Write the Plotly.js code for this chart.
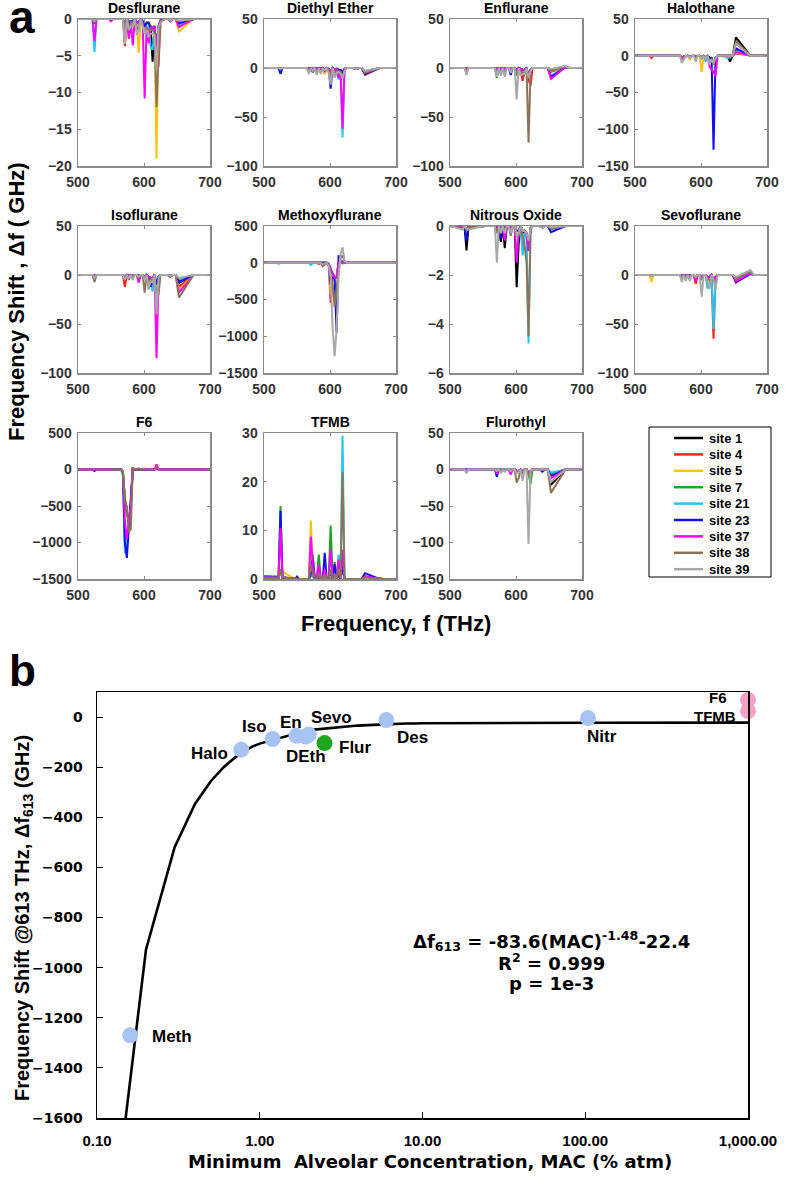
<!DOCTYPE html>
<html><head><meta charset="utf-8">
<script src="https://cdn.plot.ly/plotly-3.0.1.min.js"></script>
<style>html,body{margin:0;padding:0;background:#fff}#chart{width:787px;height:1182px}</style>
</head><body><div id="chart"></div>
<script>
// ---------------- DATA ----------------
const FREQ = [500, 519, 522, 525, 528, 547, 550, 553, 565, 568, 571, 574, 577, 580, 583, 586, 589, 592, 595, 598, 601, 604, 607, 610, 613, 616, 619, 622, 625, 632, 636, 640, 644, 648, 653, 675, 680, 700];
const SITES = ['site 1', 'site 4', 'site 5', 'site 7', 'site 21', 'site 23', 'site 37', 'site 38', 'site 39'];
// rows: [freq, site1, site4, site5, site7, site21, site23, site37, site38, site39]; unlisted grid frequencies are 0
const desflurane = [
  [525, -0.3, -0.5, -0.3, -0.5, -4.5, -0.6, -3.0, -0.3, -0.3],
  [550, 0, 0, 0, 0, 0, 0, -0.3, -0.1, 0],
  [571, -1.0, -3.7, -1.0, -1.0, -1.2, -1.0, -1.2, -2.0, -3.4],
  [577, -0.3, -0.5, -0.5, -0.5, -0.5, -0.8, -2.7, -1.0, -1.5],
  [580, -0.3, -0.3, -0.3, -0.3, -0.3, -0.3, -0.3, -0.6, -1.0],
  [583, -0.3, -0.3, -0.3, -0.3, -0.3, -0.3, -3.6, -0.5, -1.0],
  [589, -0.5, -0.5, -0.6, -0.5, -0.5, -0.5, -0.6, -1.5, -2.2],
  [592, -0.5, -0.5, -4.6, -0.5, -0.5, -0.5, -0.5, -1.0, -1.5],
  [598, -0.3, -0.3, -0.3, -0.3, -0.3, -0.3, -0.5, -0.8, -1.0],
  [601, -1.0, -1.0, -1.2, -1.0, -1.2, -1.0, -10.8, -2.0, -2.0],
  [604, -0.5, -0.5, -0.5, -0.5, -0.6, -0.5, -1.0, -1.2, -1.5],
  [607, -0.5, -0.5, -0.5, -0.5, -0.8, -0.5, -3.3, -1.5, -2.5],
  [610, -1.0, -1.0, -1.0, -1.0, -3.8, -1.2, -1.2, -1.5, -2.0],
  [613, -5.8, -1.2, -1.2, -1.2, -4.2, -1.2, -1.2, -1.5, -2.0],
  [616, -1.0, -1.0, -1.0, -1.0, -1.5, -1.0, -1.0, -1.8, -2.2],
  [619, -5.0, -5.5, -19.0, -4.0, -4.5, -4.0, -4.0, -12.0, -7.0],
  [622, -1.0, -6.5, -1.0, -1.0, -1.0, -1.0, -1.0, -5.0, -1.0],
  [625, -0.2, -0.3, -0.3, -0.2, -0.2, -0.2, -0.3, -0.4, -0.5],
  [640, -0.2, -0.3, -0.2, -0.2, -0.2, -0.2, -0.3, -0.2, -0.2],
  [653, -0.8, -0.5, -1.7, -0.5, -0.8, -0.6, -1.1, -0.3, -0.2]
];
const diethylEther = [
  [525, 0, 0, 0, 0, 0, -6, 0, -0.5, -1],
  [568, -1, -1, -1, -1, -1, -1, -1, -4, -6],
  [574, -1, -1, -1, -1, -1, -4.5, -1, -2, -3],
  [580, -1, -1, -1, -1, -1, -1, -1, -5, -7],
  [586, -1, -1, -4, -1, -1, -1, -1, -3, -6],
  [592, -2, -6, -6, -2, -2, -2, -3, -2, -2],
  [598, -1, -1, -1, -1, -1, -1, -1, -3, -5],
  [601, -3, -3, -3, -3, -3, -21, -3, -8, -17],
  [607, -2, -2, -2, -2, -2, -2, -2, -5, -10],
  [610, -1, -1, -1, -1, -1, -1, -1, -3, -5],
  [613, -2, -2, -2, -2, -12, -2, -10, -3, -4],
  [616, -2, -2, -2, -2, -2, -2, -3, -4, -6],
  [619, -5, -5, -5, -5, -71, -5, -62, -8, -10],
  [622, -1, -2, -1, -1, -1, -1, -1, -3, -3],
  [640, -1, -1, -1, -1, -1, -1, -1, -1, -1],
  [653, -4, -7, -4, -3, -4, -6, -4, -5, -3]
];
const enflurane = [
  [525, -1, -1, -1, -1, -1, -1, -1, -3, -7],
  [571, -1, -1, -1, -10, -1, -1, -1, -5, -9],
  [577, -1, -1, -1, -1, -1, -1, -1, -3, -8],
  [583, -1, -1, -1, -1, -1, -1, -1, -4, -9],
  [592, -1, -1, -1, -1, -1, -7, -1, -3, -5],
  [601, -2, -2, -2, -2, -2, -2, -2, -8, -32],
  [607, -1, -1, -1, -1, -1, -1, -1, -4, -8],
  [610, -2, -13, -2, -2, -2, -2, -2, -4, -6],
  [613, -2, -4, -2, -2, -2, -2, -2, -5, -6],
  [619, -8, -12, -8, -8, -8, -8, -8, -76, -10],
  [622, -2, -18, -2, -2, -2, -2, -2, -4, -3],
  [653, -2, -4, -3, -2, -8, -9, -11, -3, -1],
  [675, 1, 1, 1, 1, 1, 1, 1, 2, 2]
];
const halothane = [
  [525, 0, -3, 0, 0, 0, 0, 0, -1, -1],
  [571, -2, -2, -2, -2, -2, -2, -2, -6, -10],
  [574, -1, -1, -1, -1, -1, -1, -1, -3, -5],
  [583, -1, -1, -6, -1, -1, -1, -1, -2, -3],
  [592, -1, -1, -1, -1, -1, -1, -1, -4, -8],
  [601, -2, -2, -22, -2, -2, -2, -2, -3, -4],
  [607, -2, -2, -2, -2, -8, -2, -3, -3, -4],
  [613, -3, -3, -3, -3, -3, -3, -15, -8, -12],
  [616, -3, -3, -3, -3, -3, -3, -18, -5, -5],
  [619, -10, -10, -10, -10, -10, -128, -22, -12, -10],
  [622, -3, -3, -3, -3, -3, -3, -28, -4, -3],
  [640, -1, -1, -1, -1, -3, -1, -1, -1, -1],
  [644, -8, -1, -1, -1, -1, -1, -1, -1, -1],
  [653, 25, 3, 4, 8, 6, 10, 5, 20, 16]
];
const isoflurane = [
  [525, -1, -1, -1, -1, -1, -1, -1, -7, -3],
  [571, -2, -12, -2, -2, -2, -2, -2, -3, -5],
  [577, -1, -1, -1, -1, -1, -1, -1, -5, -3],
  [583, -1, -1, -1, -1, -1, -1, -1, -2, -5],
  [592, -1, -1, -1, -1, -1, -1, -8, -3, -2],
  [601, -2, -2, -2, -2, -2, -2, -2, -18, -5],
  [607, -2, -2, -2, -2, -2, -2, -2, -8, -15],
  [610, -3, -3, -3, -3, -5, -12, -3, -4, -6],
  [613, -3, -3, -3, -3, -17, -6, -3, -5, -8],
  [619, -10, -10, -10, -10, -10, -10, -85, -20, -40],
  [622, -2, -2, -2, -2, -2, -2, -5, -20, -3],
  [640, -1, -2, -1, -1, -1, -1, -1, -1, -1],
  [653, -8, -12, -15, -6, -5, -7, -18, -23, -3]
];
const methoxyflurane = [
  [522, 0, 0, 0, 0, -15, 0, 0, 0, 0],
  [571, 0, 0, 0, 0, -30, 0, -10, 0, 0],
  [583, -5, -10, -5, -5, -10, -5, -10, -20, -10],
  [589, -10, -20, -10, -10, -10, -10, -40, -50, -20],
  [592, -5, -10, -5, -5, -5, -5, -20, -30, -10],
  [598, -20, -20, -20, -20, -20, -20, -20, -30, -40],
  [601, -100, -550, -420, -100, -100, -300, -100, -150, -200],
  [604, -150, -200, -200, -150, -150, -200, -150, -300, -900],
  [607, -200, -200, -200, -200, -200, -200, -200, -600, -1270],
  [610, -200, -200, -200, -200, -200, -950, -200, -300, -900],
  [613, 0, 0, 0, 0, 0, 100, 0, -100, -200],
  [616, 20, 20, 20, 20, 20, 20, 20, 60, 120],
  [619, 10, 10, 10, -10, 10, 10, 10, 100, 210],
  [622, 0, 0, 0, 0, 0, 0, 0, 20, 30]
];
const nitrousOxide = [
  [519, -0.05, -0.05, -0.05, -0.05, -0.05, -0.05, -0.05, -0.1, -0.15],
  [525, -1.0, -0.2, -0.2, -0.2, -0.2, -0.6, -0.2, -0.2, -0.1],
  [528, -0.05, -0.05, -0.05, -0.05, -0.05, -0.05, -0.05, -0.05, -0.15],
  [571, -0.2, -0.1, -0.1, -0.1, -0.1, -0.1, -0.1, -0.3, -1.5],
  [577, -0.65, -0.1, -0.1, -0.1, -0.1, -0.5, -0.1, -0.2, -0.3],
  [583, -0.9, -0.1, -0.1, -0.1, -0.1, -0.1, -0.6, -0.2, -0.3],
  [592, -0.2, -0.1, -0.1, -0.1, -0.1, -0.1, -0.1, -0.4, -0.3],
  [601, -2.5, -0.2, -0.2, -0.2, -0.2, -0.2, -1.5, -0.4, -0.4],
  [604, -0.75, -0.2, -0.2, -0.2, -0.2, -0.2, -0.3, -0.4, -0.3],
  [610, -0.3, -0.2, -0.2, -0.2, -1.2, -0.2, -0.2, -0.4, -0.2],
  [613, -0.2, -0.2, -0.2, -0.2, -0.3, -0.2, -0.2, -0.8, -0.2],
  [616, -0.3, -0.3, -0.3, -0.3, -0.5, -0.3, -0.3, -1.5, -0.3],
  [619, -1.0, -1.0, -1.0, -1.0, -4.8, -1.0, -1.0, -4.5, -0.6],
  [622, -0.1, -0.1, -0.1, -0.1, -0.1, -0.1, -0.1, -0.2, -0.1],
  [640, -0.05, -0.05, -0.05, -0.05, -0.05, -0.05, -0.05, -0.05, -0.1],
  [653, -0.1, -0.1, -0.1, -0.1, -0.15, -0.25, -0.1, -0.1, -0.05]
];
const sevoflurane = [
  [525, 0, 0, -7, 0, 0, 0, 0, -1, -1],
  [571, -1, -1, -1, -1, -1, -1, -1, -3, -7],
  [577, -1, -1, -1, -1, -1, -1, -1, -3, -6],
  [583, -1, -1, -1, -1, -1, -1, -1, -3, -6],
  [592, -2, -9, -2, -2, -2, -5, -6, -2, -2],
  [601, -2, -2, -2, -2, -2, -2, -2, -5, -22],
  [610, -2, -2, -13, -2, -14, -2, -2, -4, -8],
  [613, -2, -2, -2, -2, -10, -2, -2, -5, -14],
  [619, -5, -65, -5, -5, -55, -5, -5, -5, -5],
  [622, -2, -2, -2, -2, -2, -2, -2, -8, -15],
  [653, -5, -8, -5, -4, -3, -7, -6, -4, -2],
  [675, 2, 2, 2, 2, 2, 1, 2, 4, 5]
];
const f6 = [
  [525, 0, 0, 0, 0, -5, -20, 0, 0, null],
  [568, -30, -30, -30, -30, -80, -30, -30, -30, null],
  [571, -400, -400, -400, -400, -1150, -1000, -700, -450, null],
  [574, -600, -600, -600, -600, -1000, -1210, -950, -500, null],
  [577, -700, -700, -700, -700, -750, -800, -750, -850, null],
  [580, -500, -500, -500, -500, -500, -500, -500, -820, null],
  [583, 10, 10, 30, 10, 10, 10, 10, 20, null],
  [592, 10, 10, 10, 10, 10, 10, 10, 15, null],
  [601, 5, 5, 5, 5, 5, 5, 5, 10, null],
  [610, 5, 5, 5, 5, 5, 5, 10, 10, null],
  [619, 20, 20, 20, 20, 20, 20, 70, 40, null]
];
const tfmb = [
  [500, 0.3, 0.3, 0.3, 0.6, 0.4, 0.3, 0.3, 0.2, null],
  [519, 0.3, 0.3, 0.3, 0.5, 0.4, 0.3, 0.3, 0.2, null],
  [525, 2, 2, 2, 15, 2, 14, 10.5, 2, null],
  [528, 0.3, 0.3, 1.5, 0.3, 0.3, 0.3, 0.3, 0.3, null],
  [550, 0, 0, 0, 0, 0, 0.5, 0, 0, null],
  [571, 1, 1, 12, 1, 1, 1, 8.7, 3, null],
  [574, 0.5, 0.5, 0.5, 5, 0.5, 4, 3, 1, null],
  [583, 0.5, 0.5, 0.5, 5, 0.5, 0.5, 3, 1, null],
  [592, 0.5, 0.5, 0.5, 0.5, 0.5, 5.4, 2, 1, null],
  [601, 1, 1, 1, 11, 1, 1, 6, 2, null],
  [607, 0.5, 0.5, 0.5, 3.5, 0.5, 3, 1, 1, null],
  [613, 1, 1, 1, 1, 5, 1, 4, 2, null],
  [619, 3, 3, 3, 3, 29.5, 3, 6, 22, null],
  [653, 0.5, 0.5, 0.5, 0.5, 0.5, 1.2, 0.5, 0.3, null]
];
const flurothyl = [
  [525, -1, -1, -1, -1, -1, -1, -1, -3, -5],
  [571, -1, -1, -1, -1, -1, -10, -6, -2, -2],
  [577, -1, -1, -1, -1, -1, -1, -1, -3, -5],
  [583, -1, -1, -1, -1, -1, -1, -1, -2, -3],
  [592, -1, -1, -1, -3, -1, -1, -7, -2, -2],
  [601, -2, -2, -2, -2, -2, -2, -2, -18, -5],
  [604, -2, -2, -2, -2, -2, -2, -2, -12, -4],
  [610, -3, -3, -3, -3, -3, -3, -3, -5, -16],
  [619, -5, -5, -5, -5, -5, -5, -5, -8, -102],
  [622, -2, -2, -2, -20, -2, -2, -2, -3, -3],
  [640, -1, -1, -1, -1, -1, -3, -1, -1, -1],
  [653, -21, -7, -5, -6, -4, -9, -12, -32, -17]
];
const PANEL_NAMES = ['Desflurane', 'Diethyl Ether', 'Enflurane', 'Halothane', 'Isoflurane', 'Methoxyflurane', 'Nitrous Oxide', 'Sevoflurane', 'F6', 'TFMB', 'Flurothyl'];
const PANEL_DATA = [desflurane, diethylEther, enflurane, halothane, isoflurane, methoxyflurane, nitrousOxide, sevoflurane, f6, tfmb, flurothyl];
const PANEL_YRANGE = [[-20, 0], [-100, 50], [-100, 50], [-150, 50], [-100, 50], [-1500, 500], [-6, 0], [-100, 50], [-1500, 500], [0, 30], [-150, 50]];
const PANEL_DTICK = [5, 50, 50, 50, 50, 500, 2, 50, 500, 10, 50];

// panel b
const fitMAC = [0.1, 0.2, 0.3, 0.4, 0.5, 0.6, 0.7, 0.8, 0.9, 1, 2, 3, 4, 5, 6, 7, 8, 9, 10, 100, 1000];
const fitShift = [-2547, -928, -519, -347, -256, -200, -163, -137, -118, -106, -52, -40, -34, -31, -28, -27, -26, -25.5, -25, -22.6, -22.4];
const drugNames = ['Meth', 'Halo', 'Iso', 'En', 'DEth', 'Sevo', 'Flur', 'Des', 'Nitr', 'F6', 'TFMB'];
const drugMAC = [0.16, 0.77, 1.2, 1.68, 1.92, 2.0, 2.5, 6.0, 104, 1000, 1000];
const drugShift = [-1270, -130, -88, -75, -78, -70, -104, -12, -4, 68, 24];
const xTickVals = [0.1, 1, 10, 100, 1000];
const xTickText = ['0.10', '1.00', '10.00', '100.00', '1,000.00'];

// ---------------- STYLE / LAYOUT ----------------
const W = 787, H = 1182;
const px = v => v / W, py = v => 1 - v / H;
const SITE_COLORS = ['#000000', '#ff2020', '#ffc20e', '#21a021', '#22c5f3', '#1010ee', '#ff00ff', '#8c7358', '#a8a8a8'];
const COLS = [[78, 210], [264, 396], [450, 582], [635, 767]];
const ROWS = [[19, 166], [226, 373], [433, 579]];
const ARIAL = 'Liberation Sans, Arial, Helvetica, sans-serif';
const DEJAVU = 'DejaVu Sans, Verdana, sans-serif';

const traces = [];
const layout = {
  width: W, height: H, margin: {l: 0, r: 0, t: 0, b: 0},
  paper_bgcolor: '#fff', plot_bgcolor: '#fff',
  showlegend: false, hovermode: false,
  annotations: [], shapes: []
};

function column(rows, k) {
  if (rows.every(r => r[k + 1] === null)) return null;
  const m = new Map(rows.map(r => [r[0], r[k + 1]]));
  return FREQ.map(f => (m.has(f) ? m.get(f) : 0));
}

PANEL_NAMES.forEach((name, i) => {
  const n = i + 1;
  const xid = n === 1 ? 'x' : 'x' + n, yid = n === 1 ? 'y' : 'y' + n;
  const col = COLS[i % 4], row = ROWS[Math.floor(i / 4)];
  for (let k = 0; k < SITES.length; k++) {
    const y = column(PANEL_DATA[i], k);
    if (!y) continue;
    traces.push({type: 'scatter', mode: 'lines', x: FREQ, y: y, xaxis: xid, yaxis: yid,
      name: SITES[k], showlegend: false, hoverinfo: 'skip',
      line: {color: SITE_COLORS[k], width: 2}});
  }
  const axCommon = {showgrid: false, zeroline: false, showline: true, linecolor: '#8a8a8a', linewidth: 1.5,
    mirror: 'ticks', ticks: 'inside', ticklen: 3, tickcolor: '#8a8a8a', fixedrange: true,
    tickfont: {family: ARIAL, size: 14, color: '#333', weight: 'bold'}};
  layout[n === 1 ? 'xaxis' : 'xaxis' + n] = Object.assign({}, axCommon, {
    domain: [px(col[0]), px(col[1])], range: [500, 700], tickvals: [500, 600, 700],
    anchor: yid, ticklabelstandoff: 3});
  layout[n === 1 ? 'yaxis' : 'yaxis' + n] = Object.assign({}, axCommon, {
    domain: [py(row[1]), py(row[0])], range: PANEL_YRANGE[i], dtick: PANEL_DTICK[i], tick0: 0,
    anchor: xid, ticklabelstandoff: 2});
  layout.annotations.push({xref: 'paper', yref: 'paper', x: px((col[0] + col[1]) / 2), y: py(row[0] - 11),
    text: '<b>' + name + '</b>', showarrow: false, xanchor: 'center', yanchor: 'middle',
    font: {family: ARIAL, size: 14, color: '#000'}});
});

// legend (box, line samples, labels)
layout.shapes.push({type: 'rect', xref: 'paper', yref: 'paper', x0: px(649), x1: px(771), y0: py(577), y1: py(427),
  line: {color: '#000', width: 1}});
SITES.forEach((s, k) => {
  const yy = 438 + 16.4 * k;
  layout.shapes.push({type: 'line', xref: 'paper', yref: 'paper', x0: px(674), x1: px(703), y0: py(yy), y1: py(yy),
    line: {color: SITE_COLORS[k], width: 2.5}});
  layout.annotations.push({xref: 'paper', yref: 'paper', x: px(707), y: py(yy), text: '<b>' + s + '</b>',
    showarrow: false, xanchor: 'left', yanchor: 'middle', font: {family: ARIAL, size: 13, color: '#000'}});
});

// panel a axis titles and labels
layout.annotations.push({xref: 'paper', yref: 'paper', x: px(16), y: py(302), textangle: -90, showarrow: false,
  text: '<b>Frequency Shift , Δf ( GHz)</b>', xanchor: 'center', yanchor: 'middle',
  font: {family: ARIAL, size: 22, color: '#000'}});
layout.annotations.push({xref: 'paper', yref: 'paper', x: px(396), y: py(623), showarrow: false,
  text: '<b>Frequency, f (THz)</b>', xanchor: 'center', yanchor: 'middle',
  font: {family: ARIAL, size: 22, color: '#000'}});
layout.annotations.push({xref: 'paper', yref: 'paper', x: px(22), y: py(17), showarrow: false,
  text: '<b>a</b>', xanchor: 'center', yanchor: 'middle', font: {family: ARIAL, size: 46, color: '#000'}});
layout.annotations.push({xref: 'paper', yref: 'paper', x: px(22), y: py(670), showarrow: false,
  text: '<b>b</b>', xanchor: 'center', yanchor: 'middle', font: {family: ARIAL, size: 44, color: '#000'}});

// ---------------- PANEL B ----------------
traces.push({type: 'scatter', mode: 'lines', x: fitMAC, y: fitShift, xaxis: 'x12', yaxis: 'y12',
  showlegend: false, hoverinfo: 'skip', line: {color: '#000', width: 2.6}});
const POINT_COLOR = {Flur: '#1ea51e', F6: '#f6a2c8', TFMB: '#f6a2c8'};
traces.push({type: 'scatter', mode: 'markers', x: drugMAC, y: drugShift, xaxis: 'x12', yaxis: 'y12',
  showlegend: false, hoverinfo: 'skip', cliponaxis: false,
  marker: {size: 16, color: drugNames.map(d => POINT_COLOR[d] || '#a7c3f2'), line: {width: 0}}});

layout.xaxis12 = {domain: [px(97), px(748)], type: 'log', range: [-1, 3], anchor: 'y12',
  tickvals: xTickVals, ticktext: xTickText.map(t => '<b>' + t + '</b>'), showgrid: false, zeroline: false, showline: true,
  linecolor: '#000', linewidth: 1.5, mirror: true, ticks: 'inside', ticklen: 6, tickcolor: '#000',
  ticklabelstandoff: 8, fixedrange: true,
  tickfont: {family: ARIAL, size: 15, color: '#000'}};
layout.yaxis12 = {domain: [py(1118), py(692)], range: [-1600, 100], tickvals: [-1600, -1400, -1200, -1000, -800, -600, -400, -200, 0],
  anchor: 'x12', showgrid: false, zeroline: false, showline: true, linecolor: '#000', linewidth: 1.5,
  mirror: true, ticks: 'inside', ticklen: 6, tickcolor: '#000', ticklabelstandoff: 10, fixedrange: true,
  tickfont: {family: DEJAVU, size: 14, color: '#000', weight: 'bold'}};

const LABEL_POS = {
  Meth: {xa: 'left', dx: 20, dy: -1, fs: 17}, Halo: {xa: 'right', dx: -11, dy: -4, fs: 17}, Iso: {xa: 'center', dx: -18, dy: 13, fs: 17},
  En: {xa: 'center', dx: -5, dy: 13, fs: 17}, DEth: {xa: 'center', dx: 0, dy: -20, fs: 17}, Sevo: {xa: 'center', dx: 23, dy: 17, fs: 17},
  Flur: {xa: 'left', dx: 12, dy: -4, fs: 17}, Des: {xa: 'center', dx: 26, dy: -17, fs: 17}, Nitr: {xa: 'center', dx: 14, dy: -18, fs: 17},
  F6: {xa: 'right', dx: -19, dy: 3, fs: 15}, TFMB: {xa: 'right', dx: -10, dy: -5, fs: 15}
};
drugNames.forEach((d, j) => {
  const p = LABEL_POS[d];
  layout.annotations.push({xref: 'x12', yref: 'y12', x: Math.log10(drugMAC[j]), y: drugShift[j], text: '<b>' + d + '</b>',
    showarrow: false, xanchor: p.xa, yanchor: 'middle', xshift: p.dx, yshift: p.dy,
    font: {family: ARIAL, size: p.fs, color: '#000'}});
});

const EQ_FONT = {family: DEJAVU, size: 18, color: '#000'};
[['<b>Δf<sub>613</sub> = -83.6(MAC)<sup>-1.48</sup>-22.4</b>', 941], ['<b>R<sup>2</sup> = 0.999</b>', 962], ['<b>p = 1e-3</b>', 983]]
  .forEach(([t, yy]) => layout.annotations.push({xref: 'paper', yref: 'paper', x: px(551), y: py(yy), text: t,
    showarrow: false, xanchor: 'center', yanchor: 'middle', font: EQ_FONT}));

layout.annotations.push({xref: 'paper', yref: 'paper', x: px(23), y: py(918), textangle: -90, showarrow: false,
  text: '<b>Frequency Shift @613 THz, Δf<sub>613</sub> (GHz)</b>', xanchor: 'center', yanchor: 'middle',
  font: {family: ARIAL, size: 20, color: '#000'}});
layout.annotations.push({xref: 'paper', yref: 'paper', x: px(430), y: py(1161), showarrow: false,
  text: '<b>Minimum\u00a0 Alveolar Concentration, MAC (% atm)</b>', xanchor: 'center', yanchor: 'middle',
  font: {family: DEJAVU, size: 18, color: '#000'}});

Plotly.newPlot('chart', traces, layout, {staticPlot: true, displayModeBar: false});
</script></body></html>
